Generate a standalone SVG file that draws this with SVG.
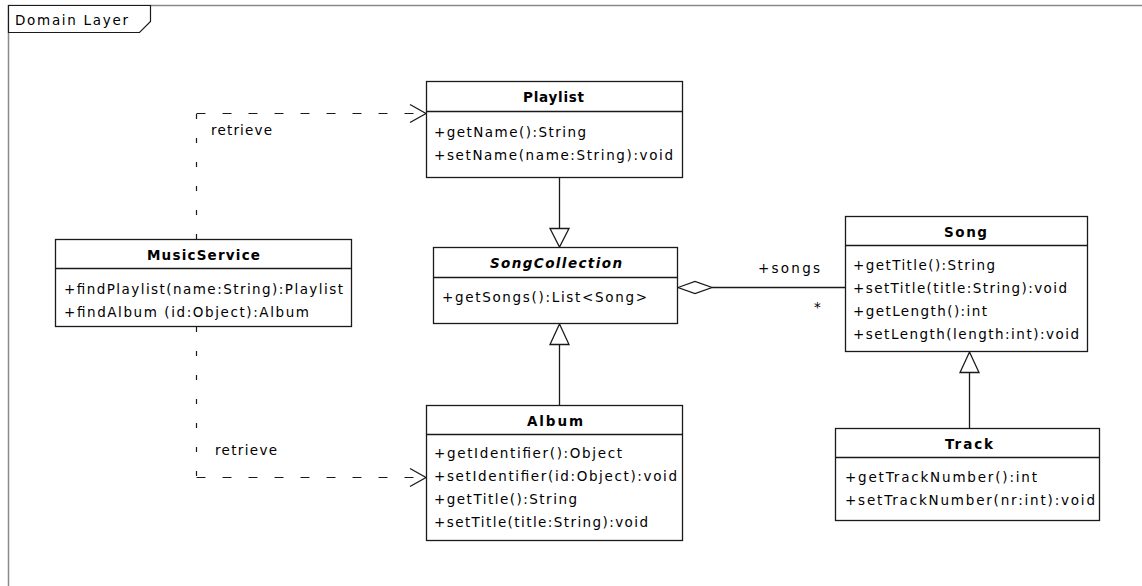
<svg xmlns="http://www.w3.org/2000/svg" width="1142" height="586" viewBox="0 0 1142 586">
<defs>
<style>
.box{fill:#fff;stroke:#1a1a1a;stroke-width:1.3}
.sep{stroke:#1a1a1a;stroke-width:1.3}
.t{font-family:"DejaVu Sans",sans-serif;font-size:13.5px;fill:#000}
.b{font-family:"DejaVu Sans",sans-serif;font-size:13.5px;font-weight:bold;fill:#000}
.bi{font-family:"DejaVu Sans",sans-serif;font-size:13.5px;font-weight:bold;font-style:italic;fill:#000}
.ln{fill:none;stroke:#1a1a1a;stroke-width:1.3}
.dh{fill:none;stroke:#1a1a1a;stroke-width:1.2;stroke-dasharray:9 17}
.dv{fill:none;stroke:#1a1a1a;stroke-width:1.2;stroke-dasharray:5 19}
.tri{fill:#fff;stroke:#1a1a1a;stroke-width:1.3}
</style>
</defs>
<rect width="1142" height="586" fill="#fff"/>
<g id="frame">
<path d="M8.5 600 V5.5 H1150" fill="none" stroke="#8a8a8a" stroke-width="1.5"/>
<path d="M8.5 5.5 H150.5 V21.5 L139.5 32.5 H8.5 Z" fill="#fff" stroke="#1a1a1a" stroke-width="1.2"/>
<text class="t" x="15" y="25" textLength="113" lengthAdjust="spacing">Domain Layer</text>
</g>
<g id="connectors">
<path class="dv" d="M196.5 239 V113.5"/>
<path class="dh" d="M196.5 113.5 H425"/>
<path class="ln" d="M410 104.5 L426 113.5 L410 122.5"/>
<text class="t" x="211" y="135" textLength="61" lengthAdjust="spacing">retrieve</text>
<path class="dv" d="M196.5 327 V477.5"/>
<path class="dh" d="M196.5 477.5 H425"/>
<path class="ln" d="M410 468.5 L426 477.5 L410 486.5"/>
<text class="t" x="215" y="455" textLength="62" lengthAdjust="spacing">retrieve</text>
<path class="ln" d="M559.5 178 V228"/>
<path class="tri" d="M550 228.5 H569 L559.5 247 Z"/>
<path class="ln" d="M559.5 405 V345"/>
<path class="tri" d="M550 344.5 H569 L559.5 324 Z"/>
<path class="ln" d="M969.5 428 V373"/>
<path class="tri" d="M960 372.5 H979 L969.5 352 Z"/>
<path class="ln" d="M712 287.5 H845"/>
<path class="tri" d="M678 287.5 L695 281.5 L712 287.5 L695 293.5 Z"/>
<text class="t" x="758" y="273" textLength="62" lengthAdjust="spacing">+songs</text>
<text class="t" x="814" y="312">*</text>
</g>
<g id="Playlist">
<rect class="box" x="426.5" y="81.5" width="256" height="96"/>
<line class="sep" x1="426.5" y1="111.5" x2="682.5" y2="111.5"/>
<text class="b" x="523" y="102" textLength="61" lengthAdjust="spacing">Playlist</text>
<text class="t" x="434" y="137" textLength="152" lengthAdjust="spacing">+getName():String</text>
<text class="t" x="434" y="160" textLength="239" lengthAdjust="spacing">+setName(name:String):void</text>
</g>
<g id="MusicService">
<rect class="box" x="55.5" y="239.5" width="296" height="87"/>
<line class="sep" x1="55.5" y1="268.5" x2="351.5" y2="268.5"/>
<text class="b" x="147" y="260" textLength="113" lengthAdjust="spacing">MusicService</text>
<text class="t" x="64" y="294" textLength="279" lengthAdjust="spacing">+findPlaylist(name:String):Playlist</text>
<text class="t" x="64" y="317" textLength="245" lengthAdjust="spacing">+findAlbum (id:Object):Album</text>
</g>
<g id="SongCollection">
<rect class="box" x="433.5" y="247.5" width="244" height="76"/>
<line class="sep" x1="433.5" y1="277.5" x2="677.5" y2="277.5"/>
<text class="bi" x="490" y="268" textLength="132" lengthAdjust="spacing">SongCollection</text>
<text class="t" x="442" y="302" textLength="205" lengthAdjust="spacing">+getSongs():List&lt;Song&gt;</text>
</g>
<g id="Song">
<rect class="box" x="845.5" y="216.5" width="242" height="135"/>
<line class="sep" x1="845.5" y1="245.5" x2="1087.5" y2="245.5"/>
<text class="b" x="944" y="237" textLength="43" lengthAdjust="spacing">Song</text>
<text class="t" x="853" y="270" textLength="142" lengthAdjust="spacing">+getTitle():String</text>
<text class="t" x="853" y="293" textLength="214" lengthAdjust="spacing">+setTitle(title:String):void</text>
<text class="t" x="853" y="316" textLength="134" lengthAdjust="spacing">+getLength():int</text>
<text class="t" x="853" y="339" textLength="226" lengthAdjust="spacing">+setLength(length:int):void</text>
</g>
<g id="Album">
<rect class="box" x="426.5" y="405.5" width="256" height="135"/>
<line class="sep" x1="426.5" y1="434.5" x2="682.5" y2="434.5"/>
<text class="b" x="527" y="426" textLength="56" lengthAdjust="spacing">Album</text>
<text class="t" x="434" y="458" textLength="188" lengthAdjust="spacing">+getIdentifier():Object</text>
<text class="t" x="434" y="481" textLength="243" lengthAdjust="spacing">+setIdentifier(id:Object):void</text>
<text class="t" x="434" y="504" textLength="143" lengthAdjust="spacing">+getTitle():String</text>
<text class="t" x="434" y="527" textLength="214" lengthAdjust="spacing">+setTitle(title:String):void</text>
</g>
<g id="Track">
<rect class="box" x="835.5" y="428.5" width="264" height="92"/>
<line class="sep" x1="835.5" y1="457.5" x2="1099.5" y2="457.5"/>
<text class="b" x="945" y="449" textLength="48" lengthAdjust="spacing">Track</text>
<text class="t" x="845" y="482" textLength="192" lengthAdjust="spacing">+getTrackNumber():int</text>
<text class="t" x="845" y="505" textLength="250" lengthAdjust="spacing">+setTrackNumber(nr:int):void</text>
</g>
</svg>
